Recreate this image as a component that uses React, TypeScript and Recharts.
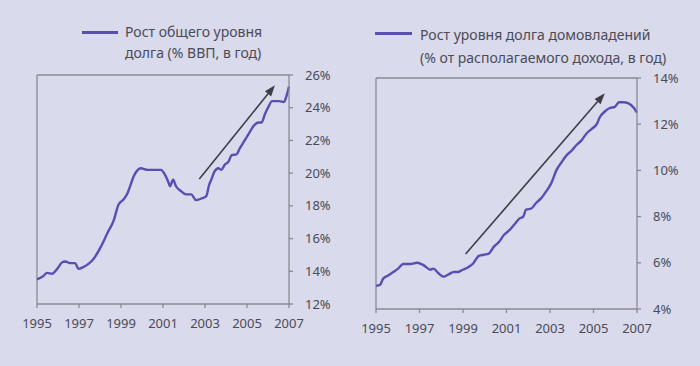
import { LineChart, Line, XAxis, YAxis, ReferenceLine } from "recharts";

const yearTicks = [1995, 1997, 1999, 2001, 2003, 2005, 2007];

// общий долг, % ВВП
const debtYears = [
  1995.0, 1995.29, 1995.48, 1995.72, 1995.96, 1996.2, 1996.34, 1996.58, 1996.82, 1996.97,
  1997.2, 1997.45, 1997.69, 1998.02, 1998.36, 1998.65, 1998.89, 1999.13, 1999.32, 1999.46,
  1999.6, 1999.8, 1999.94, 2000.28, 2000.57, 2000.9, 2001.05, 2001.24, 2001.34, 2001.48,
  2001.62, 2001.86, 2002.1, 2002.34, 2002.58, 2002.82, 2003.06, 2003.2, 2003.3, 2003.45,
  2003.64, 2003.78, 2003.93, 2004.12, 2004.27, 2004.5, 2004.65, 2004.89, 2005.08, 2005.32,
  2005.56, 2005.7, 2005.85, 2006.04, 2006.19, 2006.52, 2006.76, 2006.9, 2007.0,
];
const debtGrowth = [
  13.5, 13.7, 13.9, 13.85, 14.15, 14.55, 14.6, 14.5, 14.5, 14.15,
  14.25, 14.45, 14.75, 15.45, 16.35, 17.1, 18.1, 18.4, 18.8, 19.3,
  19.8, 20.2, 20.3, 20.2, 20.2, 20.2, 20.0, 19.5, 19.2, 19.6,
  19.2, 18.9, 18.7, 18.7, 18.35, 18.45, 18.6, 19.3, 19.6, 20.1,
  20.3, 20.2, 20.5, 20.7, 21.1, 21.15, 21.5, 22.0, 22.4, 22.9,
  23.1, 23.1, 23.6, 24.1, 24.4, 24.4, 24.35, 24.8, 25.3,
];
const debtTicks = [12, 14, 16, 18, 20, 22, 24, 26];
const debtArrow = [
  { x: 2002.73, y: 19.64 },
  { x: 2006.33, y: 25.37 },
];

// долг домохозяйств, % располагаемого дохода
const householdYears = [
  1995.0, 1995.19, 1995.32, 1995.56, 1995.79, 1996.02, 1996.25, 1996.58, 1996.9, 1997.18,
  1997.5, 1997.64, 1997.87, 1998.1, 1998.34, 1998.57, 1998.75, 1998.99, 1999.22, 1999.45,
  1999.73, 1999.96, 2000.19, 2000.42, 2000.65, 2000.88, 2001.12, 2001.35, 2001.58, 2001.77,
  2001.9, 2002.14, 2002.37, 2002.6, 2002.83, 2003.06, 2003.29, 2003.53, 2003.76, 2003.99,
  2004.22, 2004.45, 2004.68, 2004.92, 2005.15, 2005.29, 2005.52, 2005.75, 2005.98, 2006.17,
  2006.38, 2006.61, 2006.86, 2007.0,
];
const householdGrowth = [
  5.0, 5.05, 5.3, 5.45, 5.6, 5.75, 5.95, 5.95, 6.0, 5.9,
  5.7, 5.75, 5.55, 5.4, 5.5, 5.6, 5.6, 5.7, 5.8, 5.95,
  6.3, 6.35, 6.4, 6.7, 6.9, 7.2, 7.4, 7.65, 7.9, 8.0,
  8.3, 8.35, 8.6, 8.8, 9.1, 9.45, 10.0, 10.35, 10.65, 10.85,
  11.1, 11.3, 11.6, 11.8, 12.0, 12.3, 12.55, 12.7, 12.75, 12.95,
  12.95, 12.9, 12.7, 12.5,
];
const householdTicks = [4, 6, 8, 10, 12, 14];
const householdArrow = [
  { x: 1999.12, y: 6.38 },
  { x: 2005.52, y: 13.34 },
];

const debtData = debtYears.map((year, i) => ({ year, value: debtGrowth[i] }));
const householdData = householdYears.map((year, i) => ({ year, value: householdGrowth[i] }));

const BG = "#d9daeb";
const PURPLE = "#5a4eb2";
const AXIS = "#8a8a96";
const TEXT = "#4b4b58";
const FONT = "'Noto Sans', sans-serif";

const tickStyle = { fill: TEXT, fontSize: 13, fontFamily: FONT };

const Arrow = (props: any) => {
  const { x1, y1, x2, y2 } = props;
  const ang = Math.atan2(y2 - y1, x2 - x1);
  const len = 11;
  const w = 4;
  const bx = x2 - len * Math.cos(ang);
  const by = y2 - len * Math.sin(ang);
  const px = -Math.sin(ang) * w;
  const py = Math.cos(ang) * w;
  return (
    <g>
      <line x1={x1} y1={y1} x2={bx} y2={by} stroke="#3e3e48" strokeWidth={1.6} />
      <polygon
        points={`${x2},${y2} ${bx + px},${by + py} ${bx - px},${by - py}`}
        fill="#3e3e48"
      />
    </g>
  );
};

const Panel = ({ data, ticks, arrow, margin }: any) => {
  const lo = ticks[0];
  const hi = ticks[ticks.length - 1];
  return (
    <LineChart width={350} height={366} data={data} margin={margin}>
      <XAxis
        dataKey="year"
        type="number"
        domain={[1995, 2007]}
        ticks={yearTicks}
        tick={tickStyle}
        tickSize={4}
        tickMargin={11}
        height={30}
        stroke={AXIS}
        strokeWidth={1.3}
      />
      <YAxis
        orientation="right"
        domain={[lo, hi]}
        ticks={ticks}
        tickFormatter={(v) => `${v}%`}
        tick={{ ...tickStyle, textAnchor: "start" }}
        tickSize={4}
        tickMargin={12}
        width={50}
        stroke={AXIS}
        strokeWidth={1.3}
      />
      <ReferenceLine x={1995} stroke={AXIS} strokeWidth={1.3} />
      <ReferenceLine y={hi} stroke={AXIS} strokeWidth={1.3} />
      <ReferenceLine segment={arrow} shape={Arrow} />
      <Line
        dataKey="value"
        type="monotone"
        stroke={PURPLE}
        strokeWidth={2.4}
        dot={false}
        isAnimationActive={false}
      />
    </LineChart>
  );
};

const legendText = {
  position: "absolute" as const,
  color: TEXT,
  fontFamily: FONT,
  fontSize: 14,
  whiteSpace: "nowrap" as const,
};

export default function App() {
  return (
    <div
      style={{
        position: "absolute",
        left: 0,
        top: 0,
        width: 700,
        height: 366,
        background: BG,
        overflow: "hidden",
      }}
    >
      <div style={{ position: "absolute", left: 0, top: 0 }}>
        <Panel
          data={debtData}
          ticks={debtTicks}
          arrow={debtArrow}
          margin={{ top: 75, right: 11, bottom: 32, left: 37 }}
        />
      </div>
      <div style={{ position: "absolute", left: 350, top: 0 }}>
        <Panel
          data={householdData}
          ticks={householdTicks}
          arrow={householdArrow}
          margin={{ top: 78, right: 13, bottom: 27, left: 26 }}
        />
      </div>

      <div style={{ position: "absolute", left: 82, top: 31, width: 36, height: 2.5, background: PURPLE }} />
      <div style={{ ...legendText, left: 125, top: 21, lineHeight: "21px" }}>
        Рост общего уровня
        <br />
        долга (% ВВП, в год)
      </div>

      <div style={{ position: "absolute", left: 375, top: 32, width: 37, height: 2.5, background: PURPLE }} />
      <div style={{ ...legendText, left: 420, top: 23, lineHeight: "23px" }}>
        Рост уровня долга домовладений
        <br />
        (% от располагаемого дохода, в год)
      </div>
    </div>
  );
}
